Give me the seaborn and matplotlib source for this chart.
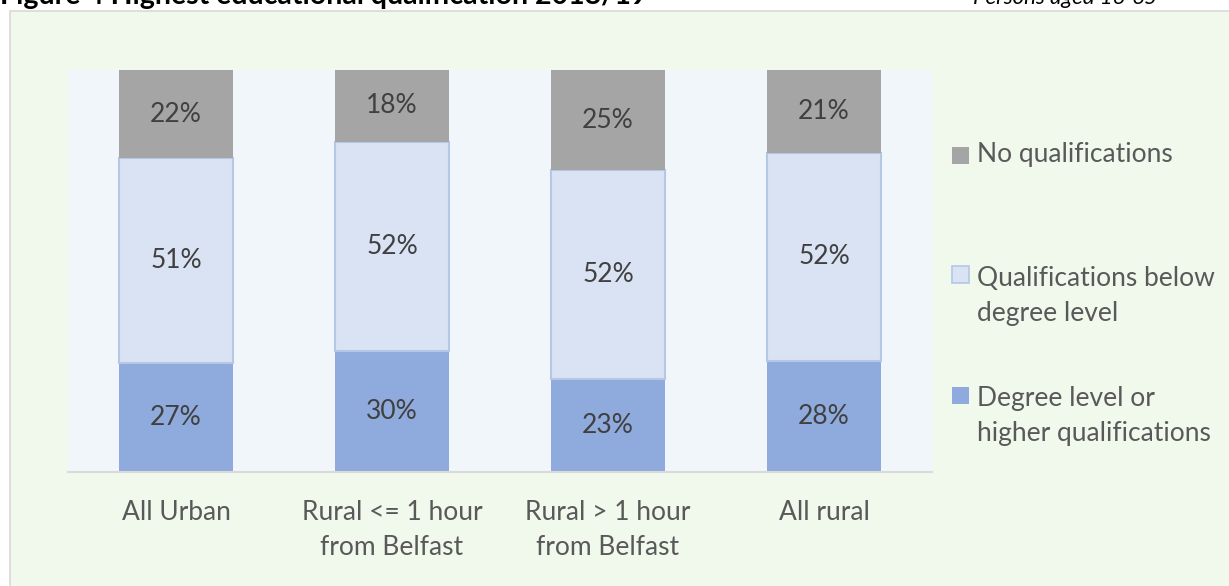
"""
Stacked bar chart: highest educational qualification by urban/rural area.
"""
import matplotlib
matplotlib.use("Agg")
import matplotlib.pyplot as plt
from matplotlib.patches import Rectangle
import seaborn as sns
import pandas as pd
import numpy as np

# Data (percent of persons aged 16-65)
areas = ["All Urban", "Rural <= 1 hour\nfrom Belfast", "Rural > 1 hour\nfrom Belfast", "All rural"]
degree = [27.1, 30.1, 23.1, 27.7]
below_degree = [51.0, 52.1, 52.0, 51.6]
no_qual = [21.9, 17.8, 24.9, 20.7]

series_names = ["No qualifications", "Qualifications below\ndegree level",
                "Degree level or\nhigher qualifications"]

# Style
sns.set_style("white")
plt.rcParams['font.family'] = ['Lato', 'DejaVu Sans']

W, H = 1229, 586
fig = plt.figure(figsize=(W / 100, H / 100), dpi=100)
fig.patch.set_facecolor("white")

# outer chart frame
fig.patches.append(Rectangle((10 / W, -0.1), 1.2, 1.1 - 11 / H, transform=fig.transFigure,
                             facecolor="#F1F8EC", edgecolor="#D9D9D9", linewidth=1.2, zorder=-1))

# title line at the very top (cut by the page edge in the original)
fig.text(0.0, 1 - 4 / H, "Figure 4 Highest educational qualification 2018/19",
         fontsize=20.5, fontweight="bold", color="black", ha="left", va="baseline")
fig.text(1157 / W, 1 - 4 / H, "Persons aged 16-65", fontsize=16, fontstyle="italic",
         color="black", ha="right", va="baseline")

ax = fig.add_axes([68 / W, 1 - 472 / H, 864 / W, 402 / H])
ax.set_facecolor("#F1F6FA")

df = pd.DataFrame({"area": areas, "degree": degree, "below": below_degree, "none": no_qual})
bottom_mid = np.array(degree)
bottom_top = bottom_mid + np.array(below_degree)

colors = {"degree": "#8FAADC", "below": "#DAE3F3", "none": "#A5A5A5"}
sns.barplot(data=df, x="area", y="degree", color=colors["degree"], width=0.53,
            saturation=1, linewidth=0, ax=ax)
sns.barplot(data=df, x="area", y="below", color=colors["below"], width=0.53,
            saturation=1, edgecolor="#B4C7E7", linewidth=1.5, bottom=bottom_mid, ax=ax)
sns.barplot(data=df, x="area", y="none", color=colors["none"], width=0.53,
            saturation=1, linewidth=0, bottom=bottom_top, ax=ax)

# value labels centred in each segment
for i in range(len(areas)):
    for base, val in [(0, degree[i]), (bottom_mid[i], below_degree[i]), (bottom_top[i], no_qual[i])]:
        ax.text(i, base + val / 2, f"{round(val):.0f}%", ha="center", va="center",
                fontsize=19, color="#404040")

ax.set_xlim(-0.5, len(areas) - 0.5)
ax.set_ylim(0, 100)
ax.set_xlabel("")
ax.set_ylabel("")
ax.set_yticks([])
for side in ["top", "left", "right"]:
    ax.spines[side].set_visible(False)
ax.spines["bottom"].set_color("#D9D9D9")
ax.spines["bottom"].set_linewidth(1.5)
ax.tick_params(axis="x", length=0, pad=20, labelsize=19, labelcolor="#595959")
for lbl in ax.get_xticklabels():
    lbl.set_linespacing(1.5)

# legend drawn by hand (Excel spaces entries by their top edge)
legend_items = [(series_names[0], colors["none"], "none", 142, 147),
                (series_names[1], colors["below"], "#B4C7E7", 266, 266),
                (series_names[2], colors["degree"], "none", 386, 387)]
for text, fc, ec, top, sq_top in legend_items:
    fig.patches.append(Rectangle((952 / W, 1 - (sq_top + 17) / H), 17 / W, 17 / H,
                                 transform=fig.transFigure, facecolor=fc, edgecolor=ec,
                                 linewidth=1.2, zorder=3))
    fig.text(977 / W, 1 - top / H, text, fontsize=19, color="#595959", ha="left", va="top",
             linespacing=1.5)

fig.savefig("out.png", dpi=100)
